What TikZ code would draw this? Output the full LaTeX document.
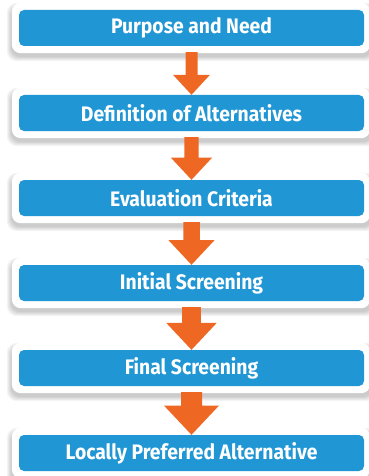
\documentclass[tikz,border=0pt]{standalone}
\usepackage{fontspec}
\newfontfamily\boxfont{Fira Sans}[FakeStretch=0.92]
\usetikzlibrary{calc,backgrounds}
\definecolor{boxblue}{RGB}{33,150,212}
\definecolor{arroworange}{RGB}{238,104,36}
\tikzset{
  stepbox/.style={rectangle, rounded corners=5pt, fill=boxblue, text=white,
    minimum width=345pt, minimum height=36pt, inner sep=0pt,
    font=\boxfont\bfseries\fontsize{21}{24}\selectfont},
  shadowlayer/.style={fill=black, opacity=0.045, rounded corners=10pt},
  whiteframe/.style={fill=white, rounded corners=9pt},
  flowarrow/.style={fill=arroworange}
}
\begin{document}
\begin{tikzpicture}[x=1pt,y=-1pt]
\useasboundingbox (0,0) rectangle (369,476);
\foreach \i/\t in {1/Purpose and Need,2/Definition of Alternatives,3/Evaluation Criteria,4/Initial Screening,5/Final Screening,6/Locally Preferred Alternative}{
  \node[stepbox] (b\i) at (191.5,{28+85*(\i-1)}) {\raisebox{-1pt}{\t}};
}
\begin{scope}[on background layer]
\foreach \i in {1,...,6}{
  \foreach \k in {0,1,2,3,4}{
    \fill[shadowlayer] ($(b\i.north west)+({-8-\k},{-3-\k})$) rectangle ($(b\i.south east)+({8+\k},{11+\k})$);
  }
  \fill[whiteframe] ($(b\i.north west)+(-7,-7)$) rectangle ($(b\i.south east)+(6,7)$);
}
\end{scope}
\foreach \i in {1,...,5}{
  \pgfmathtruncatemacro{\j}{\i+1}
  \pgfmathsetmacro{\s}{12+2.25*(\i-1)}
  \pgfmathsetmacro{\h}{37+4.5*(\i-1)}
  \pgfmathsetmacro{\L}{20+2.3*(\i-1)}
  \fill[flowarrow] ($(b\i.south)+({-\s/2},6)$) -- ($(b\j.north)+({-\s/2},{-\L})$)
    -- ($(b\j.north)+({-\h/2},{-\L})$) -- (b\j.north)
    -- ($(b\j.north)+({\h/2},{-\L})$) -- ($(b\j.north)+({\s/2},{-\L})$)
    -- ($(b\i.south)+({\s/2},6)$) -- cycle;
}
\end{tikzpicture}
\end{document}
